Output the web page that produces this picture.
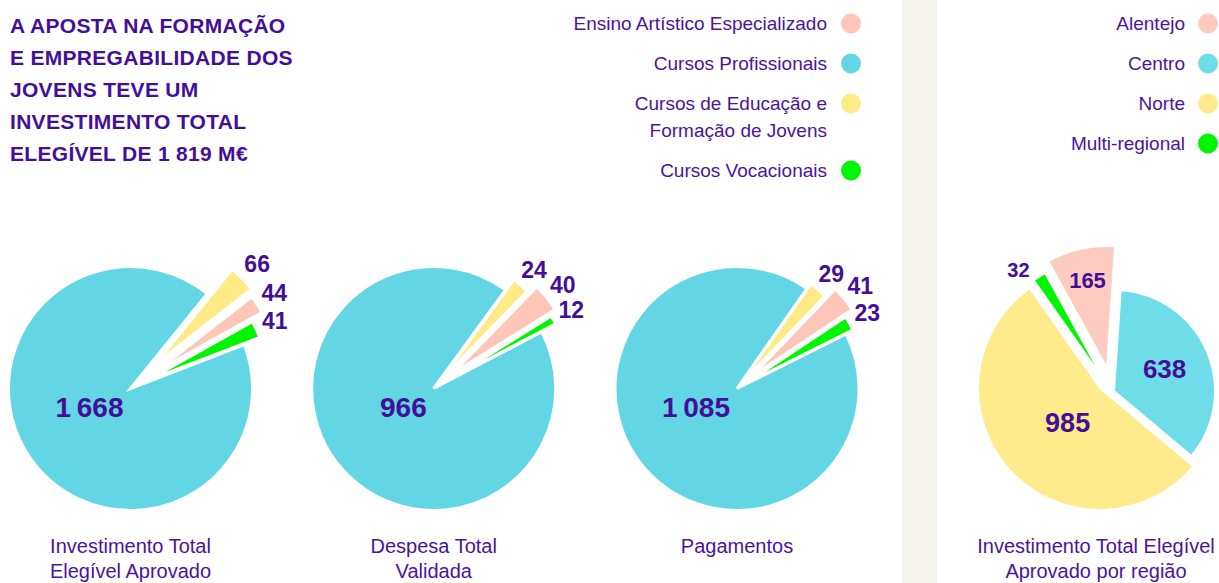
<!DOCTYPE html>
<html>
<head>
<meta charset="utf-8">
<script src="https://cdn.jsdelivr.net/npm/d3@7"></script>
<style>
  body { margin: 0; background: #fff; }
  svg { display: block; font-family: "Liberation Sans", Arial, sans-serif; }
</style>
</head>
<body>
<div id="chart"></div>
<script>
var titleLines = [
  "A APOSTA NA FORMAÇÃO",
  "E EMPREGABILIDADE DOS",
  "JOVENS TEVE UM",
  "INVESTIMENTO TOTAL",
  "ELEGÍVEL DE 1 819 M€"
];

var cursos = [
  "Ensino Artístico Especializado",
  "Cursos Profissionais",
  "Cursos de Educação e Formação de Jovens",
  "Cursos Vocacionais"
];
var investimentoAprovado = [44, 1668, 66, 41];
var despesaValidada = [40, 966, 24, 12];
var pagamentos = [41, 1085, 29, 23];

var regioes = ["Alentejo", "Centro", "Norte", "Multi-regional"];
var investimentoRegiao = [165, 638, 985, 32];

var chartNames = [
  "Investimento Total Elegível Aprovado",
  "Despesa Total Validada",
  "Pagamentos",
  "Investimento Total Elegível Aprovado por região"
];

var cursoColors = ["#fdc6b9", "#62d6e4", "#ffea85", "#00f500"];
var regiaoColors = ["#fdcbbf", "#6fdde9", "#ffea8c", "#00f500"];

var purple = "#440f98";
var width = 1219,
  height = 583;

var svg = d3
  .select("#chart")
  .append("svg")
  .attr("width", width)
  .attr("height", height);

// light separator band
svg
  .append("rect")
  .attr("x", 902)
  .attr("y", 0)
  .attr("width", 35)
  .attr("height", height)
  .attr("fill", "#f4f3ee");

// title
svg
  .append("g")
  .selectAll("text")
  .data(titleLines)
  .enter()
  .append("text")
  .attr("x", 10)
  .attr("y", function(d, i) {
    return 33 + i * 32;
  })
  .attr("font-weight", "bold")
  .attr("font-size", 21)
  .attr("letter-spacing", 0.3)
  .attr("fill", purple)
  .text(function(d) {
    return d;
  });

function fmt(v) {
  return d3.format(",")(v).replace(/,/g, "\u2009");
}

// wraps words of a label into lines that fit maxWidth
function wrapLines(textEl, label, maxWidth) {
  var words = label.split(" "),
    lines = [],
    line = [];
  words.forEach(function(w) {
    line.push(w);
    textEl.text(line.join(" "));
    if (textEl.node().getComputedTextLength() > maxWidth && line.length > 1) {
      line.pop();
      lines.push(line.join(" "));
      line = [w];
    }
  });
  lines.push(line.join(" "));
  textEl.text(null);
  return lines;
}

function drawLegend(names, colors, xText, xDot) {
  var g = svg.append("g").attr("class", "legend");
  var y = 30;
  names.forEach(function(name, i) {
    var t = g
      .append("text")
      .attr("text-anchor", "end")
      .attr("font-size", 19)
      .attr("fill", "#4a14a0");
    var lines = wrapLines(t, name, 261);
    lines.forEach(function(l, j) {
      t.append("tspan")
        .attr("x", xText)
        .attr("y", y + j * 27)
        .text(l);
    });
    g.append("circle")
      .attr("cx", xDot)
      .attr("cy", y - 6.5)
      .attr("r", 10)
      .attr("fill", colors[i]);
    y += 40 + (lines.length - 1) * 27;
  });
}

drawLegend(cursos, cursoColors, 827, 851);
drawLegend(regioes, regiaoColors, 1185, 1208);

function drawName(name, cx, maxWidth) {
  var t = svg
    .append("text")
    .attr("text-anchor", "middle")
    .attr("font-size", 20)
    .attr("fill", "#4a14a0");
  wrapLines(t, name, maxWidth).forEach(function(l, j) {
    t.append("tspan")
      .attr("x", cx)
      .attr("y", 553 + j * 25)
      .text(l);
  });
}

// course pies: clockwise yellow, pink, green, then the big cyan slice
var coursePies = [
  { values: investimentoAprovado, startDeg: 39, pull: [30, 0, 35, 17] },
  { values: despesaValidada, startDeg: 36, pull: [23, 0, 13, 16] },
  { values: pagamentos, startDeg: 35, pull: [18, 0, 6, 8] }
];
var courseOrder = [2, 0, 3, 1];
var radius = 122,
  strokeW = 3;
var centerX = d3
  .scaleLinear()
  .domain([0, 2])
  .range([130.5, 737]);
var centerY = 388.5;

function rankOf(order) {
  var r = {};
  order.forEach(function(c, i) {
    r[c] = i;
  });
  return r;
}

coursePies.forEach(function(p, pi) {
  var cx = centerX(pi);
  var rank = rankOf(courseOrder);
  var start = (p.startDeg * Math.PI) / 180;
  var pie = d3
    .pie()
    .value(function(d) {
      return d.value;
    })
    .sort(function(a, b) {
      return rank[a.i] - rank[b.i];
    })
    .startAngle(start)
    .endAngle(start + 2 * Math.PI);
  var arcs = pie(
    p.values.map(function(v, i) {
      return { value: v, i: i };
    })
  );
  var arc = d3
    .arc()
    .innerRadius(0)
    .outerRadius(radius);

  var g = svg.append("g").attr("transform", "translate(" + cx + "," + centerY + ")");

  g.selectAll("path")
    .data(arcs)
    .enter()
    .append("path")
    .attr("d", arc)
    .attr("transform", function(d) {
      var a = (d.startAngle + d.endAngle) / 2,
        off = p.pull[d.data.i];
      return "translate(" + Math.sin(a) * off + "," + -Math.cos(a) * off + ")";
    })
    .attr("fill", function(d) {
      return cursoColors[d.data.i];
    })
    .attr("stroke", "#fff")
    .attr("stroke-width", strokeW)
    .attr("stroke-linejoin", "miter");

  g.selectAll("text.small")
    .data(
      arcs.filter(function(d) {
        return d.data.i !== 1;
      })
    )
    .enter()
    .append("text")
    .attr("class", "small")
    .attr("text-anchor", "middle")
    .attr("dominant-baseline", "central")
    .attr("font-weight", "bold")
    .attr("font-size", 23)
    .attr("fill", purple)
    .attr("x", function(d) {
      var a = (d.startAngle + d.endAngle) / 2;
      return Math.sin(a) * (radius - strokeW / 2 + p.pull[d.data.i] + 22);
    })
    .attr("y", function(d) {
      var a = (d.startAngle + d.endAngle) / 2;
      return -Math.cos(a) * (radius - strokeW / 2 + p.pull[d.data.i] + 22);
    })
    .text(function(d) {
      return fmt(d.value);
    });

  g.append("text")
    .attr("text-anchor", "end")
    .attr("x", -7)
    .attr("y", 28.5)
    .attr("font-weight", "bold")
    .attr("font-size", 28)
    .attr("fill", purple)
    .text(fmt(p.values[1]));

  drawName(chartNames[pi], cx, 200);
});

// regional pie: every slice pulled apart on its own
var regionPie = {
  cx: 1107,
  cy: 386,
  startDeg: 3.8,
  order: [1, 2, 3, 0],
  shift: [[0, -18], [7, 5], [-7, 2], [-3, -6]],
  radius: [122, 101, 122, 122],
  labelR: [90, 55, 48, 139],
  labelTurn: [0, 0, -5, -6],
  labelSize: [22, 26, 27, 20]
};

(function() {
  var p = regionPie;
  var rank = rankOf(p.order);
  var start = (p.startDeg * Math.PI) / 180;
  var arcs = d3
    .pie()
    .value(function(d) {
      return d.value;
    })
    .sort(function(a, b) {
      return rank[a.i] - rank[b.i];
    })
    .startAngle(start)
    .endAngle(start + 2 * Math.PI)(
    investimentoRegiao.map(function(v, i) {
      return { value: v, i: i };
    })
  );

  var g = svg.append("g").attr("transform", "translate(" + p.cx + "," + p.cy + ")");

  var slices = g
    .selectAll("g.slice")
    .data(arcs)
    .enter()
    .append("g")
    .attr("class", "slice")
    .attr("transform", function(d) {
      var s = p.shift[d.data.i];
      return "translate(" + s[0] + "," + s[1] + ")";
    });

  slices
    .append("path")
    .attr("d", function(d) {
      return d3
        .arc()
        .innerRadius(0)
        .outerRadius(p.radius[d.data.i])(d);
    })
    .attr("fill", function(d) {
      return regiaoColors[d.data.i];
    })
    .attr("stroke", "#fff")
    .attr("stroke-width", 2);

  slices
    .append("text")
    .attr("text-anchor", "middle")
    .attr("dominant-baseline", "central")
    .attr("font-weight", "bold")
    .attr("font-size", function(d) {
      return p.labelSize[d.data.i];
    })
    .attr("fill", purple)
    .attr("x", function(d) {
      var a = (d.startAngle + d.endAngle) / 2 + (p.labelTurn[d.data.i] * Math.PI) / 180;
      return Math.sin(a) * p.labelR[d.data.i];
    })
    .attr("y", function(d) {
      var a = (d.startAngle + d.endAngle) / 2 + (p.labelTurn[d.data.i] * Math.PI) / 180;
      return -Math.cos(a) * p.labelR[d.data.i];
    })
    .text(function(d) {
      return fmt(d.value);
    });

  drawName(chartNames[3], 1096, 250);
})();
</script>
</body>
</html>
